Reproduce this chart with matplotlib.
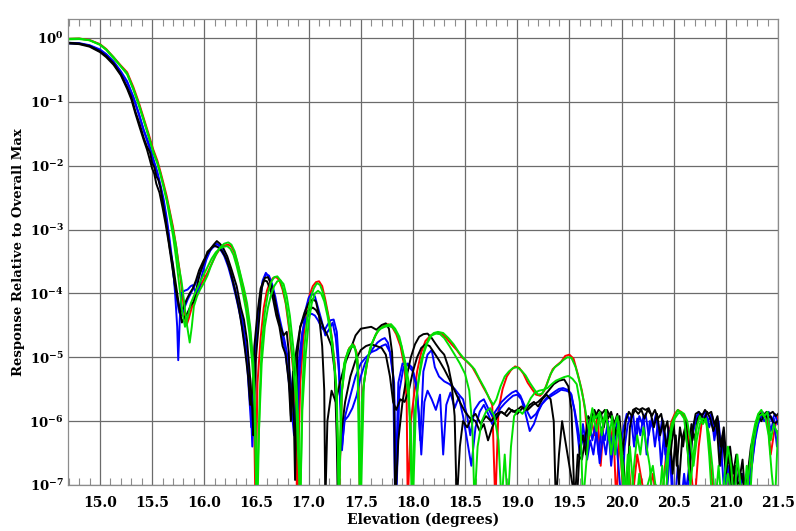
import matplotlib
matplotlib.use('Agg')
import matplotlib.pyplot as plt
from matplotlib.ticker import MultipleLocator, NullLocator

plt.rcParams['font.family'] = ['DejaVu Serif']
plt.rcParams['font.weight'] = 'bold'

# elevation (deg), response relative to overall max
red_pts = [
    (14.70, 0.97), (14.80, 0.98), (14.90, 0.93), (15.00, 0.80), (15.06, 0.67), (15.13, 0.50),
    (15.20, 0.37), (15.26, 0.29), (15.32, 0.17), (15.37, 0.10), (15.42, 0.055), (15.47, 0.030),
    (15.51, 0.018), (15.55, 0.012), (15.58, 0.0080), (15.61, 0.0052), (15.64, 0.0033),
    (15.67, 0.0019), (15.70, 1.1e-3), (15.73, 5.5e-4), (15.76, 2.5e-4), (15.79, 1.0e-4),
    (15.81, 4.5e-5), (15.83, 3.2e-5), (15.85, 4.0e-5), (15.88, 6.0e-5), (15.91, 8.5e-5),
    (15.95, 1.2e-4), (15.99, 1.6e-4), (16.03, 2.1e-4), (16.07, 2.9e-4), (16.11, 4.0e-4),
    (16.15, 5.0e-4), (16.19, 5.6e-4), (16.23, 5.8e-4), (16.26, 5.4e-4), (16.29, 4.3e-4),
    (16.32, 2.9e-4), (16.35, 1.8e-4), (16.38, 1.1e-4), (16.41, 6e-5), (16.44, 2.5e-5),
    (16.47, 6e-6), (16.49, 5e-8), (16.51, 4e-6), (16.54, 2.0e-5), (16.57, 6e-5), (16.60, 1.1e-4),
    (16.63, 1.5e-4), (16.66, 1.75e-4), (16.69, 1.8e-4), (16.72, 1.6e-4), (16.75, 1.15e-4),
    (16.78, 7e-5), (16.81, 3e-5), (16.84, 1e-5), (16.87, 3e-6), (16.89, 5e-8), (16.92, 4e-6),
    (16.95, 2.0e-5), (16.98, 5.5e-5), (17.01, 9.5e-5), (17.04, 1.3e-4), (17.07, 1.5e-4),
    (17.10, 1.55e-4), (17.13, 1.3e-4), (17.16, 8e-5), (17.19, 4.5e-5), (17.22, 2.2e-5),
    (17.25, 8e-6), (17.27, 1.5e-6), (17.29, 5e-8), (17.32, 3e-6), (17.35, 9e-6), (17.39, 1.4e-5),
    (17.43, 1.6e-5), (17.46, 1.2e-5), (17.48, 5e-6), (17.49, 5e-8), (17.52, 3e-6), (17.56, 8e-6),
    (17.60, 1.5e-5), (17.64, 2.2e-5), (17.68, 2.8e-5), (17.72, 3.1e-5), (17.76, 3.3e-5),
    (17.80, 3.0e-5), (17.84, 2.3e-5), (17.88, 1.5e-5), (17.92, 7e-6), (17.94, 2e-6), (17.95, 5e-8),
    (17.98, 1e-6), (18.01, 2.5e-6), (18.04, 6e-6), (18.08, 1.2e-5), (18.12, 1.8e-5), (18.17, 2.2e-5),
    (18.22, 2.4e-5), (18.27, 2.4e-5), (18.32, 2.0e-5), (18.37, 1.6e-5), (18.42, 1.3e-5),
    (18.47, 1.0e-5), (18.52, 8.5e-6), (18.57, 7e-6), (18.62, 5e-6), (18.67, 3.5e-6), (18.72, 2.5e-6),
    (18.76, 1.8e-6), (18.79, 5e-8), (18.82, 1.5e-6), (18.86, 3.2e-6), (18.90, 5e-6), (18.94, 6.3e-6),
    (18.98, 7.2e-6), (19.02, 6.8e-6), (19.06, 5.5e-6), (19.10, 4.0e-6), (19.14, 3.2e-6),
    (19.18, 2.6e-6), (19.22, 2.5e-6), (19.26, 3.0e-6), (19.30, 4.5e-6), (19.34, 6.5e-6),
    (19.38, 7.5e-6), (19.42, 8.5e-6), (19.46, 1.05e-5), (19.50, 1.1e-5), (19.54, 9.5e-6),
    (19.58, 5.5e-6), (19.62, 3e-6), (19.65, 1.5e-6),
    (19.68, 4e-7), (19.71, 1.1e-6), (19.74, 6e-7), (19.77, 1.3e-6), (19.80, 2e-7), (19.83, 1.0e-6),
    (19.86, 1.3e-6), (19.89, 4e-7), (19.92, 9e-7), (19.95, 5e-8), (19.98, 6e-7), (20.01, 1e-7),
    (20.04, 5e-8), (20.07, 2e-7), (20.10, 5e-8), (20.15, 3e-7), (20.20, 1e-7), (20.25, 5e-8),
    (20.30, 1.5e-7), (20.35, 5e-8), (20.40, 1e-7), (20.44, 5e-7), (20.48, 1.0e-6), (20.51, 1.3e-6),
    (20.54, 1.5e-6), (20.57, 1.4e-6), (20.60, 1.2e-6), (20.63, 8e-7), (20.66, 2e-7), (20.70, 5e-8),
    (20.74, 4e-7), (20.77, 1.0e-6), (20.80, 1.2e-6), (20.83, 7e-7), (20.86, 1.5e-7), (20.90, 5e-8),
    (20.95, 1e-7), (21.00, 5e-8), (21.05, 2e-7), (21.10, 5e-8), (21.15, 1e-7), (21.20, 5e-8),
    (21.24, 3e-7), (21.28, 7e-7), (21.31, 1.1e-6), (21.34, 1.4e-6), (21.37, 1.3e-6), (21.40, 1.0e-6),
    (21.43, 3e-7), (21.47, 8e-7), (21.50, 1.2e-6),
]

green1_pts = [
    (14.70, 0.97), (14.80, 0.98), (14.90, 0.92), (15.00, 0.78), (15.06, 0.65), (15.13, 0.48),
    (15.20, 0.36), (15.26, 0.28), (15.32, 0.16), (15.37, 0.095), (15.42, 0.052), (15.47, 0.028),
    (15.51, 0.016), (15.55, 0.011), (15.58, 0.0072), (15.61, 0.0048), (15.64, 0.0030),
    (15.67, 0.0018), (15.70, 1.0e-3), (15.73, 5.5e-4), (15.75, 3.0e-4), (15.78, 1.6e-4),
    (15.80, 9e-5), (15.83, 3.5e-5), (15.86, 1.7e-5), (15.88, 3.0e-5), (15.90, 6.3e-5),
    (15.93, 9.0e-5), (15.96, 1.15e-4), (16.00, 1.5e-4), (16.03, 1.9e-4), (16.06, 2.6e-4),
    (16.09, 3.4e-4), (16.12, 4.3e-4), (16.15, 5.2e-4), (16.19, 6.0e-4), (16.23, 6.3e-4),
    (16.26, 5.8e-4), (16.29, 4.6e-4), (16.32, 3.0e-4), (16.35, 1.9e-4), (16.38, 1.2e-4),
    (16.41, 7.0e-5), (16.44, 3.0e-5), (16.47, 8e-6), (16.49, 1e-6), (16.51, 5e-8), (16.53, 2e-6),
    (16.55, 1.5e-5), (16.58, 5e-5), (16.61, 1.0e-4), (16.64, 1.5e-4), (16.67, 1.8e-4),
    (16.70, 1.85e-4), (16.73, 1.6e-4), (16.76, 1.1e-4), (16.79, 6e-5), (16.82, 2.5e-5),
    (16.85, 8e-6), (16.88, 2e-6), (16.90, 3e-7), (16.92, 5e-8), (16.94, 3e-6), (16.96, 1.5e-5),
    (16.99, 4.5e-5), (17.02, 8.5e-5), (17.05, 1.2e-4), (17.08, 1.45e-4), (17.11, 1.35e-4),
    (17.14, 1.0e-4), (17.17, 6e-5), (17.20, 3.5e-5), (17.23, 1.6e-5), (17.26, 4e-6), (17.28, 5e-7),
    (17.29, 5e-8), (17.31, 2e-6), (17.34, 8e-6), (17.38, 1.3e-5), (17.42, 1.6e-5), (17.45, 1.3e-5),
    (17.47, 6e-6), (17.49, 5e-8), (17.51, 2e-6), (17.55, 7e-6), (17.59, 1.4e-5), (17.63, 2.0e-5),
    (17.67, 2.7e-5), (17.71, 3.0e-5), (17.75, 3.2e-5), (17.79, 3.3e-5), (17.83, 2.8e-5),
    (17.87, 2.1e-5), (17.90, 1.3e-5), (17.93, 8e-6), (17.96, 4e-6), (17.99, 5e-8), (18.02, 1.5e-6),
    (18.05, 4e-6), (18.08, 9e-6), (18.12, 1.5e-5), (18.16, 2.1e-5), (18.20, 2.4e-5), (18.24, 2.5e-5),
    (18.29, 2.4e-5), (18.34, 2.0e-5), (18.39, 1.6e-5), (18.44, 1.2e-5), (18.49, 9.5e-6),
    (18.54, 8e-6), (18.59, 6.5e-6), (18.64, 4.5e-6), (18.69, 3.2e-6), (18.73, 2.3e-6),
    (18.77, 1.8e-6), (18.80, 2.2e-6), (18.84, 3.5e-6), (18.88, 5e-6), (18.92, 6e-6), (18.96, 6.8e-6),
    (19.00, 7e-6), (19.04, 6.2e-6), (19.08, 5.2e-6), (19.12, 4e-6), (19.16, 3.2e-6), (19.20, 2.6e-6),
    (19.24, 2.7e-6), (19.28, 3.6e-6), (19.32, 5.5e-6), (19.36, 7e-6), (19.40, 7.8e-6), (19.44, 9e-6),
    (19.48, 1.0e-5), (19.52, 9.8e-6), (19.56, 7e-6), (19.60, 4e-6), (19.64, 2e-6), (19.67, 1.0e-6),
    (19.70, 6e-7), (19.73, 1.2e-6), (19.76, 7e-7), (19.79, 1.4e-6), (19.82, 9e-7), (19.85, 1.5e-6),
    (19.88, 5e-7), (19.91, 1.2e-6), (19.94, 3e-7), (19.97, 1.0e-6), (20.00, 2e-7), (20.03, 5e-8),
    (20.06, 3e-7), (20.09, 5e-8), (20.12, 2e-7), (20.15, 6e-7), (20.18, 3e-7), (20.21, 8e-7),
    (20.24, 4e-7), (20.27, 2e-7), (20.30, 5e-8), (20.33, 1e-7), (20.36, 5e-8), (20.39, 2e-7),
    (20.42, 5e-8), (20.45, 3e-7), (20.48, 7e-7), (20.51, 1.1e-6), (20.54, 1.3e-6), (20.57, 1.4e-6),
    (20.60, 1.3e-6), (20.63, 1.0e-6), (20.66, 5e-7), (20.69, 2e-7), (20.72, 5e-7), (20.75, 9e-7),
    (20.78, 1.1e-6), (20.81, 1.0e-6), (20.84, 6e-7), (20.87, 2e-7), (20.90, 5e-8), (20.93, 2e-7),
    (20.96, 5e-8), (20.99, 1.5e-7), (21.02, 4e-7), (21.05, 2e-7), (21.08, 5e-8), (21.11, 3e-7),
    (21.14, 1e-7), (21.17, 5e-8), (21.20, 2e-7), (21.23, 5e-8), (21.26, 4e-7), (21.29, 8e-7),
    (21.32, 1.2e-6), (21.35, 1.3e-6), (21.38, 1.1e-6), (21.41, 6e-7), (21.44, 1.5e-7),
    (21.47, 5e-8), (21.50, 7e-7),
]

green2_pts = [
    (14.70, 0.95), (14.80, 0.96), (14.90, 0.92), (15.00, 0.79), (15.06, 0.66), (15.13, 0.50),
    (15.20, 0.36), (15.26, 0.27), (15.32, 0.155), (15.37, 0.09), (15.42, 0.050), (15.47, 0.027),
    (15.51, 0.017), (15.55, 0.011), (15.58, 0.0075), (15.61, 0.0046), (15.64, 0.0028),
    (15.67, 0.0015), (15.70, 8e-4), (15.73, 3.5e-4), (15.76, 1.3e-4), (15.79, 5e-5),
    (15.815, 3.0e-5), (15.84, 4.2e-5), (15.87, 7e-5), (15.91, 1.0e-4), (15.95, 1.4e-4),
    (15.99, 1.9e-4), (16.03, 2.6e-4), (16.07, 3.5e-4), (16.11, 4.4e-4), (16.15, 5.1e-4),
    (16.19, 5.4e-4), (16.22, 5.5e-4), (16.25, 5.0e-4), (16.28, 4.0e-4), (16.31, 2.7e-4),
    (16.34, 1.7e-4), (16.37, 1.0e-4), (16.40, 5.5e-5), (16.43, 2.5e-5), (16.46, 8e-6),
    (16.48, 2e-6), (16.50, 5e-8), (16.52, 5e-7), (16.55, 8e-6), (16.58, 3e-5), (16.61, 6e-5),
    (16.64, 9.5e-5), (16.67, 1.3e-4), (16.70, 1.55e-4), (16.73, 1.6e-4), (16.76, 1.4e-4),
    (16.79, 9e-5), (16.82, 4.5e-5), (16.85, 1.6e-5), (16.88, 5e-6), (16.90, 1e-6), (16.92, 5e-8),
    (16.94, 1.5e-6), (16.97, 1e-5), (17.00, 3.5e-5), (17.03, 7e-5), (17.06, 1.0e-4), (17.09, 1.1e-4),
    (17.12, 1.0e-4), (17.15, 7.5e-5), (17.18, 4.5e-5), (17.21, 2.4e-5), (17.24, 1.0e-5),
    (17.27, 3e-6), (17.29, 5e-8), (17.32, 3e-6), (17.36, 1.0e-5), (17.40, 1.4e-5), (17.44, 1.5e-5),
    (17.47, 9e-6), (17.50, 5e-8), (17.53, 4e-6), (17.57, 1.0e-5), (17.61, 1.7e-5), (17.65, 2.4e-5),
    (17.69, 2.8e-5), (17.73, 3.0e-5), (17.77, 3.1e-5), (17.81, 2.9e-5), (17.85, 2.3e-5),
    (17.89, 1.5e-5), (17.92, 8e-6), (17.95, 3e-6), (17.98, 8e-7), (18.00, 5e-8), (18.03, 2e-6),
    (18.06, 5e-6), (18.10, 1.1e-5), (18.14, 1.7e-5), (18.18, 2.2e-5), (18.22, 2.35e-5),
    (18.26, 2.3e-5), (18.30, 2.0e-5), (18.35, 1.5e-5), (18.40, 1.1e-5), (18.45, 8e-6),
    (18.50, 5.5e-6), (18.54, 3e-6), (18.57, 8e-7), (18.59, 5e-8), (18.62, 4e-7), (18.66, 1.0e-6),
    (18.70, 1.4e-6), (18.74, 1.6e-6), (18.78, 1.2e-6), (18.82, 5e-7), (18.85, 5e-8), (18.88, 3e-7),
    (18.91, 5e-8), (18.94, 4e-7), (18.97, 1.2e-6), (19.01, 1.5e-6), (19.05, 1.3e-6), (19.09, 1.7e-6),
    (19.13, 2.3e-6), (19.17, 2.8e-6), (19.21, 3.0e-6), (19.25, 3.1e-6), (19.29, 3.3e-6),
    (19.33, 3.8e-6), (19.37, 4.3e-6), (19.41, 4.6e-6), (19.45, 4.9e-6), (19.49, 5.1e-6),
    (19.53, 4.6e-6), (19.57, 3.8e-6), (19.60, 2e-6), (19.63, 5e-8),
    (19.66, 2e-7), (19.69, 8e-7), (19.72, 1.6e-6), (19.75, 1.1e-6), (19.78, 1.3e-6), (19.81, 6e-7),
    (19.84, 1.2e-6), (19.87, 9e-7), (19.90, 3e-7), (19.93, 8e-7), (19.96, 1.2e-6), (19.99, 6e-7),
    (20.02, 1.5e-7), (20.05, 5e-8), (20.08, 4e-7), (20.11, 1e-7), (20.14, 5e-8), (20.17, 1.5e-7),
    (20.20, 5e-8), (20.25, 1e-7), (20.30, 2e-7), (20.35, 5e-8), (20.40, 1e-7), (20.45, 4e-7),
    (20.48, 9e-7), (20.51, 1.2e-6), (20.54, 1.5e-6), (20.57, 1.3e-6), (20.60, 1.1e-6), (20.63, 4e-7),
    (20.66, 1e-7), (20.69, 3e-7), (20.72, 8e-7), (20.75, 1.2e-6), (20.78, 9e-7), (20.81, 1.1e-6),
    (20.84, 3e-7), (20.87, 5e-8), (20.92, 1e-7), (20.97, 5e-8), (21.02, 1.5e-7), (21.07, 5e-8),
    (21.12, 1e-7), (21.17, 5e-8), (21.22, 1.5e-7), (21.25, 5e-7), (21.28, 9e-7), (21.31, 1.3e-6),
    (21.34, 1.5e-6), (21.37, 1.2e-6), (21.40, 1.4e-6), (21.43, 5e-7), (21.46, 9e-7), (21.50, 6e-7),
]

blue1_pts = [
    (14.70, 0.84), (14.80, 0.83), (14.90, 0.77), (15.00, 0.66), (15.06, 0.56), (15.13, 0.43),
    (15.20, 0.30), (15.26, 0.21), (15.32, 0.12), (15.37, 0.068), (15.42, 0.036), (15.47, 0.022),
    (15.51, 0.013), (15.55, 0.0080), (15.58, 0.0050), (15.61, 0.0030), (15.64, 0.0015),
    (15.67, 6.5e-4), (15.70, 2.6e-4), (15.72, 1.0e-4), (15.74, 3.0e-5), (15.75, 9e-6),
    (15.765, 4e-5), (15.78, 1.0e-4), (15.81, 1.1e-4), (15.84, 1.15e-4), (15.87, 1.3e-4),
    (15.89, 1.35e-4), (15.92, 1.0e-4), (15.95, 1.2e-4), (15.98, 2.0e-4), (16.02, 3.4e-4),
    (16.06, 4.8e-4), (16.09, 5.6e-4), (16.12, 6.0e-4), (16.15, 5.5e-4), (16.18, 4.6e-4),
    (16.22, 3.3e-4), (16.26, 2.0e-4), (16.30, 1.1e-4), (16.34, 6e-5), (16.37, 3.5e-5),
    (16.40, 1.5e-5), (16.43, 5e-6), (16.45, 1.2e-6), (16.46, 4e-7), (16.48, 5e-6), (16.50, 2.5e-5),
    (16.53, 7e-5), (16.56, 1.5e-4), (16.59, 2.0e-4), (16.62, 1.9e-4), (16.65, 1.4e-4), (16.68, 9e-5),
    (16.71, 5e-5), (16.74, 3e-5), (16.77, 1.8e-5), (16.80, 1.0e-5), (16.83, 4e-6), (16.86, 1.5e-6),
    (16.89, 7e-7), (16.91, 5e-6), (16.94, 2.2e-5), (16.97, 5.5e-5), (17.00, 8.5e-5), (17.03, 1.0e-4),
    (17.06, 9.0e-5), (17.09, 6e-5), (17.12, 4e-5), (17.16, 2.2e-5), (17.20, 2.8e-5), (17.23, 3.5e-5),
    (17.26, 2e-5), (17.29, 6e-6), (17.32, 4e-7), (17.35, 1.2e-6), (17.40, 2.5e-6), (17.45, 5e-6),
    (17.50, 8e-6), (17.55, 1.0e-5), (17.60, 1.2e-5), (17.65, 1.3e-5), (17.70, 1.5e-5),
    (17.74, 1.6e-5), (17.78, 1.2e-5), (17.81, 5e-6), (17.83, 5e-8), (17.86, 4e-6), (17.90, 8e-6),
    (17.95, 7.5e-6), (18.00, 6e-6), (18.04, 3e-6), (18.07, 5e-7), (18.10, 6e-6), (18.14, 1.1e-5),
    (18.18, 1.3e-5), (18.21, 7e-6), (18.25, 5e-6), (18.30, 4.2e-6), (18.35, 3.8e-6), (18.40, 3.2e-6),
    (18.45, 2.5e-6), (18.48, 2.2e-6), (18.52, 1.2e-6), (18.55, 6e-7), (18.59, 1.5e-6),
    (18.64, 2.0e-6), (18.68, 2.2e-6), (18.72, 1.6e-6), (18.76, 1.2e-6), (18.80, 1.5e-6),
    (18.85, 2.0e-6), (18.90, 2.4e-6), (18.95, 2.8e-6), (18.99, 3.0e-6), (19.03, 2.5e-6),
    (19.08, 1.6e-6), (19.13, 1.1e-6), (19.18, 1.3e-6), (19.23, 1.8e-6), (19.28, 2.2e-6),
    (19.33, 2.5e-6), (19.38, 2.8e-6), (19.42, 3.1e-6), (19.47, 3.0e-6), (19.51, 2.8e-6),
    (19.55, 1.5e-6), (19.58, 8e-7),
    (19.61, 4e-7), (19.64, 6e-7), (19.67, 2.5e-7), (19.70, 5e-7), (19.73, 3e-7), (19.76, 7e-7),
    (19.79, 2.2e-7), (19.82, 6e-7), (19.85, 3e-7), (19.88, 8e-7), (19.91, 4e-7), (19.94, 7e-7),
    (19.97, 2e-7), (20.00, 5e-8), (20.03, 4e-7), (20.06, 9e-7), (20.09, 1.2e-6), (20.12, 4e-7),
    (20.15, 1.1e-6), (20.18, 6e-7), (20.21, 1.2e-6), (20.24, 3e-7), (20.27, 1.0e-6), (20.30, 8e-7),
    (20.33, 1.3e-6), (20.36, 5e-7), (20.39, 1.1e-6), (20.42, 3e-7), (20.45, 8e-7), (20.48, 1e-7),
    (20.51, 5e-8), (20.54, 2e-7), (20.57, 5e-8), (20.60, 1.5e-7), (20.63, 5e-8), (20.66, 4e-7),
    (20.69, 9e-7), (20.72, 1.2e-6), (20.75, 1.3e-6), (20.78, 1.1e-6), (20.81, 1.3e-6), (20.84, 8e-7),
    (20.87, 1.2e-6), (20.90, 6e-7), (20.93, 1.0e-6), (20.96, 3e-7), (20.99, 5e-8), (21.02, 2e-7),
    (21.05, 5e-8), (21.10, 1.5e-7), (21.15, 5e-8), (21.20, 1e-7), (21.25, 2e-7), (21.28, 5e-7),
    (21.31, 9e-7), (21.34, 1.2e-6), (21.37, 1.0e-6), (21.40, 1.3e-6), (21.43, 7e-7), (21.46, 1.1e-6),
    (21.49, 4e-7), (21.50, 5e-7),
]

blue2_pts = [
    (14.70, 0.82), (14.80, 0.81), (14.90, 0.76), (15.00, 0.64), (15.06, 0.54), (15.13, 0.41),
    (15.20, 0.29), (15.26, 0.20), (15.32, 0.115), (15.37, 0.065), (15.42, 0.035), (15.47, 0.020),
    (15.51, 0.012), (15.55, 0.0072), (15.58, 0.0045), (15.61, 0.0026), (15.64, 0.0013),
    (15.67, 5.5e-4), (15.70, 2.2e-4), (15.73, 9e-5), (15.76, 5e-5), (15.78, 4.5e-5), (15.81, 6e-5),
    (15.84, 8e-5), (15.87, 1.0e-4), (15.90, 1.25e-4), (15.93, 1.6e-4), (15.97, 2.3e-4),
    (16.01, 3.4e-4), (16.05, 4.6e-4), (16.09, 5.4e-4), (16.12, 5.5e-4), (16.15, 5.0e-4),
    (16.19, 3.9e-4), (16.23, 2.6e-4), (16.27, 1.5e-4), (16.31, 8e-5), (16.35, 4e-5), (16.38, 2e-5),
    (16.41, 8e-6), (16.43, 2.5e-6), (16.45, 8e-7), (16.47, 4e-6), (16.50, 2.5e-5), (16.53, 8e-5),
    (16.56, 1.6e-4), (16.59, 2.1e-4), (16.62, 1.8e-4), (16.65, 1.2e-4), (16.68, 7e-5), (16.71, 4e-5),
    (16.74, 2.5e-5), (16.77, 1.4e-5), (16.80, 6e-6), (16.83, 2e-6), (16.86, 6e-7), (16.88, 2e-6),
    (16.91, 1.0e-5), (16.94, 2.5e-5), (16.97, 3.8e-5), (17.00, 4.6e-5), (17.03, 4.8e-5),
    (17.06, 4.5e-5), (17.09, 3.8e-5), (17.12, 3.0e-5), (17.15, 2.6e-5), (17.18, 3.2e-5),
    (17.21, 3.8e-5), (17.24, 3.9e-5), (17.27, 2.5e-5), (17.29, 8e-6), (17.31, 1.5e-6),
    (17.32, 3.5e-7), (17.34, 1e-6), (17.38, 1.2e-6), (17.42, 1.6e-6), (17.46, 2.5e-6), (17.50, 5e-6),
    (17.54, 8e-6), (17.58, 1.1e-5), (17.62, 1.4e-5), (17.66, 1.7e-5), (17.70, 1.9e-5),
    (17.73, 2.0e-5), (17.76, 1.7e-5), (17.79, 1.0e-5), (17.82, 4e-6), (17.84, 5e-8), (17.87, 3e-6),
    (17.91, 7e-6), (17.95, 8e-6), (17.99, 7e-6), (18.03, 4e-6), (18.06, 1.2e-6), (18.08, 3e-7),
    (18.11, 2e-6), (18.14, 3e-6), (18.18, 2.2e-6), (18.22, 1.5e-6), (18.26, 2.6e-6), (18.29, 3e-7),
    (18.32, 1.8e-6), (18.36, 2.8e-6), (18.40, 1.6e-6), (18.44, 2.4e-6), (18.48, 1.2e-6),
    (18.52, 5e-7), (18.56, 2e-7), (18.60, 8e-7), (18.64, 1.4e-6), (18.68, 1.8e-6), (18.72, 1.3e-6),
    (18.76, 9e-7), (18.80, 1.2e-6), (18.84, 1.6e-6), (18.88, 1.9e-6), (18.92, 2.2e-6),
    (18.96, 2.5e-6), (19.00, 2.6e-6), (19.04, 2.2e-6), (19.08, 1.3e-6), (19.12, 7e-7),
    (19.16, 9e-7), (19.20, 1.4e-6), (19.24, 1.9e-6), (19.28, 2.3e-6), (19.32, 2.6e-6),
    (19.36, 2.9e-6), (19.40, 3.2e-6), (19.44, 3.3e-6), (19.48, 3.1e-6), (19.52, 2.6e-6),
    (19.55, 1.4e-6), (19.58, 6e-7),
    (19.60, 3e-7), (19.63, 9e-7), (19.66, 4e-7), (19.69, 1.0e-6), (19.72, 5e-7), (19.75, 9e-7),
    (19.78, 3e-7), (19.81, 8e-7), (19.84, 5e-7), (19.87, 1.0e-6), (19.90, 2e-7), (19.93, 6e-7),
    (19.96, 1.0e-6), (19.99, 4e-7), (20.02, 8e-7), (20.05, 1.3e-6), (20.08, 1.0e-6), (20.11, 1.3e-6),
    (20.14, 5e-7), (20.17, 1.2e-6), (20.20, 9e-7), (20.23, 1.3e-6), (20.26, 6e-7), (20.29, 1.1e-6),
    (20.32, 4e-7), (20.35, 1.0e-6), (20.38, 2e-7), (20.41, 7e-7), (20.44, 1e-7), (20.47, 4e-7),
    (20.50, 5e-8), (20.55, 1e-7), (20.60, 5e-8), (20.65, 2e-7), (20.68, 6e-7), (20.71, 1.0e-6),
    (20.74, 1.4e-6), (20.77, 1.2e-6), (20.80, 1.4e-6), (20.83, 1.0e-6), (20.86, 1.3e-6),
    (20.89, 5e-7), (20.92, 1.1e-6), (20.95, 2e-7), (20.98, 6e-7), (21.01, 5e-8), (21.06, 1e-7),
    (21.11, 5e-8), (21.16, 1.5e-7), (21.21, 5e-8), (21.26, 3e-7), (21.29, 7e-7), (21.32, 1.1e-6),
    (21.35, 1.4e-6), (21.38, 1.2e-6), (21.41, 1.4e-6), (21.44, 1.0e-6), (21.47, 1.3e-6),
    (21.50, 9e-7),
]

black1_pts = [
    (14.70, 0.84), (14.80, 0.82), (14.90, 0.75), (15.00, 0.62), (15.06, 0.52), (15.13, 0.40),
    (15.20, 0.27), (15.26, 0.17), (15.30, 0.12), (15.34, 0.07), (15.38, 0.045), (15.42, 0.027),
    (15.45, 0.020), (15.48, 0.016), (15.50, 0.011), (15.52, 0.0095), (15.54, 0.0068),
    (15.56, 0.0060), (15.58, 0.0045), (15.61, 0.0022), (15.64, 0.0011), (15.67, 5.0e-4),
    (15.70, 2.8e-4), (15.73, 1.3e-4), (15.76, 6e-5), (15.785, 3.5e-5), (15.81, 4.2e-5),
    (15.84, 5.0e-5), (15.87, 6.5e-5), (15.90, 7.5e-5), (15.93, 1.3e-4), (15.96, 2.1e-4),
    (16.00, 3.2e-4), (16.03, 4.5e-4), (16.06, 5.0e-4), (16.09, 5.8e-4), (16.12, 6.6e-4),
    (16.15, 6.0e-4), (16.18, 5.2e-4), (16.22, 3.8e-4), (16.26, 2.4e-4), (16.31, 1.3e-4),
    (16.35, 6e-5), (16.38, 3.9e-5), (16.41, 1.8e-5), (16.44, 4.6e-6), (16.46, 1.5e-6),
    (16.47, 6e-7), (16.49, 8e-6), (16.52, 3e-5), (16.55, 1.2e-4), (16.58, 1.75e-4), (16.61, 1.8e-4),
    (16.64, 1.4e-4), (16.67, 9e-5), (16.70, 5e-5), (16.73, 3e-5), (16.76, 2.2e-5), (16.79, 2.5e-5),
    (16.81, 1.2e-5), (16.83, 1.2e-6), (16.85, 6e-6), (16.87, 1.2e-7), (16.89, 1e-5), (16.92, 3e-5),
    (16.96, 5e-5), (17.00, 7e-5), (17.04, 8.1e-5), (17.07, 7.5e-5), (17.10, 4.5e-5), (17.13, 1.5e-5),
    (17.15, 3e-6), (17.16, 5e-8), (17.18, 1e-6), (17.22, 3e-6), (17.26, 2e-6), (17.30, 4e-6),
    (17.35, 8e-6), (17.40, 1.3e-5), (17.45, 2.2e-5), (17.50, 2.8e-5), (17.55, 2.9e-5),
    (17.60, 3.0e-5), (17.65, 2.7e-5), (17.70, 3.2e-5), (17.74, 3.4e-5), (17.77, 2.8e-5),
    (17.80, 1.2e-5), (17.82, 2e-6), (17.83, 5e-8), (17.86, 5e-7), (17.90, 2e-6), (17.94, 5e-6),
    (17.98, 1.0e-5), (18.02, 1.6e-5), (18.06, 2.1e-5), (18.10, 2.3e-5), (18.14, 2.35e-5),
    (18.18, 2.0e-5), (18.22, 1.6e-5), (18.26, 1.3e-5), (18.30, 1.1e-5), (18.34, 7e-6), (18.37, 4e-6),
    (18.40, 1.2e-6), (18.42, 5e-8), (18.45, 4e-7), (18.48, 1.0e-6), (18.52, 8e-7), (18.56, 1.1e-6),
    (18.60, 1.0e-6), (18.64, 7e-7), (18.68, 9e-7), (18.72, 5e-7), (18.76, 8e-7), (18.80, 1.1e-6),
    (18.84, 1.4e-6), (18.88, 1.3e-6), (18.92, 1.6e-6), (18.96, 1.4e-6), (19.00, 1.5e-6),
    (19.04, 1.7e-6), (19.08, 1.5e-6), (19.12, 1.8e-6), (19.16, 2.0e-6), (19.20, 1.7e-6),
    (19.24, 2.2e-6), (19.28, 2.6e-6), (19.32, 2.2e-6), (19.35, 1.0e-6), (19.37, 5e-8),
    (19.40, 3e-7), (19.43, 1.0e-6), (19.46, 5e-7), (19.50, 2e-7), (19.53, 1e-7), (19.57, 5e-8),
    (19.60, 4e-7), (19.63, 6e-7), (19.66, 3e-7), (19.69, 9e-7), (19.72, 1.4e-6), (19.75, 1.2e-6),
    (19.78, 1.5e-6), (19.81, 1.3e-6), (19.84, 1.5e-6), (19.87, 1.1e-6), (19.90, 1.4e-6),
    (19.93, 9e-7), (19.96, 1.3e-6), (19.99, 5e-7), (20.02, 2e-7), (20.05, 5e-8), (20.08, 8e-7),
    (20.11, 1.5e-6), (20.14, 1.6e-6), (20.17, 1.5e-6), (20.20, 1.6e-6), (20.23, 1.5e-6),
    (20.26, 1.6e-6), (20.29, 1.2e-6), (20.32, 1.5e-6), (20.35, 1.1e-6), (20.38, 1.3e-6),
    (20.41, 7e-7), (20.44, 1.0e-6), (20.47, 3e-7), (20.50, 9e-7), (20.53, 2e-7), (20.56, 8e-7),
    (20.59, 4e-7), (20.62, 1.0e-6), (20.65, 1.2e-7), (20.68, 7e-7), (20.71, 1.3e-6), (20.74, 1.4e-6),
    (20.77, 1.2e-6), (20.80, 1.5e-6), (20.83, 1.3e-6), (20.86, 1.4e-6), (20.89, 9e-7),
    (20.92, 1.2e-6), (20.95, 4e-7), (20.98, 8e-7), (21.01, 2e-7), (21.04, 4e-7), (21.07, 1.5e-7),
    (21.10, 3e-7), (21.13, 1.2e-7), (21.16, 2.5e-7), (21.19, 5e-8), (21.22, 2e-7), (21.25, 3e-7),
    (21.28, 8e-7), (21.31, 1.2e-6), (21.34, 1.0e-6), (21.37, 1.3e-6), (21.40, 1.1e-6),
    (21.43, 1.2e-6), (21.46, 9e-7), (21.50, 1.0e-6),
]

black2_pts = [
    (14.70, 0.82), (14.80, 0.80), (14.90, 0.73), (15.00, 0.60), (15.06, 0.50), (15.13, 0.38),
    (15.20, 0.26), (15.26, 0.16), (15.30, 0.11), (15.34, 0.065), (15.38, 0.040), (15.42, 0.025),
    (15.45, 0.018), (15.48, 0.012), (15.50, 0.0090), (15.52, 0.0075), (15.54, 0.0052),
    (15.57, 0.0038), (15.60, 0.0022), (15.63, 1.2e-3), (15.66, 6e-4), (15.69, 2.8e-4),
    (15.72, 1.3e-4), (15.75, 7e-5), (15.77, 5e-5), (15.80, 6e-5), (15.83, 8e-5), (15.86, 1.0e-4),
    (15.89, 1.2e-4), (15.92, 1.6e-4), (15.95, 2.3e-4), (15.99, 3.2e-4), (16.03, 4.2e-4),
    (16.07, 5.2e-4), (16.10, 5.6e-4), (16.13, 5.3e-4), (16.17, 4.6e-4), (16.21, 3.5e-4),
    (16.25, 2.2e-4), (16.29, 1.2e-4), (16.33, 6e-5), (16.36, 3e-5), (16.39, 1.3e-5), (16.42, 5e-6),
    (16.44, 1.8e-6), (16.46, 3e-6), (16.48, 1.5e-5), (16.51, 5e-5), (16.54, 1.2e-4), (16.57, 1.6e-4),
    (16.60, 1.55e-4), (16.63, 1.2e-4), (16.66, 8e-5), (16.69, 4.5e-5), (16.72, 3e-5), (16.75, 1.5e-5),
    (16.78, 1.1e-5), (16.81, 4e-6), (16.83, 1e-6), (16.85, 3e-6), (16.88, 1.2e-5), (16.92, 3e-5),
    (16.96, 4.5e-5), (17.00, 5.5e-5), (17.04, 6e-5), (17.07, 5.5e-5), (17.10, 4.5e-5),
    (17.14, 3e-5), (17.18, 2.2e-5), (17.22, 1.5e-5), (17.25, 6e-6), (17.27, 5e-7), (17.28, 5e-8),
    (17.31, 6e-7), (17.35, 2e-6), (17.40, 5e-6), (17.45, 9e-6), (17.50, 1.3e-5), (17.55, 1.5e-5),
    (17.60, 1.6e-5), (17.65, 1.5e-5), (17.70, 1.4e-5), (17.74, 1.1e-5), (17.78, 5e-6),
    (17.81, 2e-6), (17.84, 1.5e-6), (17.88, 2.2e-6), (17.92, 2.0e-6), (17.96, 3e-6), (18.00, 6e-6),
    (18.04, 1.0e-5), (18.08, 1.4e-5), (18.12, 1.6e-5), (18.16, 1.5e-5), (18.20, 1.2e-5),
    (18.25, 9e-6), (18.30, 6.5e-6), (18.35, 4.5e-6), (18.40, 3e-6), (18.45, 2.0e-6), (18.50, 1.4e-6),
    (18.55, 1.1e-6), (18.60, 1.3e-6), (18.65, 9e-7), (18.70, 1.2e-6), (18.75, 1.0e-6),
    (18.80, 1.3e-6), (18.85, 1.4e-6), (18.90, 1.2e-6), (18.95, 1.5e-6), (19.00, 1.3e-6),
    (19.05, 1.6e-6), (19.10, 1.5e-6), (19.15, 1.8e-6), (19.20, 2.0e-6), (19.25, 2.4e-6),
    (19.30, 3.0e-6), (19.35, 3.8e-6), (19.40, 4.3e-6), (19.45, 4.5e-6), (19.49, 3.5e-6),
    (19.52, 1.5e-6), (19.55, 5e-8),
    (19.58, 3e-7), (19.62, 2.5e-7), (19.65, 5e-7), (19.68, 1.2e-6), (19.71, 1.0e-6), (19.74, 1.5e-6),
    (19.77, 1.1e-6), (19.80, 1.4e-6), (19.83, 8e-7), (19.86, 1.5e-6), (19.89, 1.2e-6),
    (19.92, 1.0e-6), (19.95, 6e-7), (19.98, 1.2e-6), (20.01, 3e-7), (20.04, 1.0e-6), (20.07, 1.4e-6),
    (20.10, 1.2e-6), (20.13, 1.5e-6), (20.16, 1.3e-6), (20.19, 1.5e-6), (20.22, 1.1e-6),
    (20.25, 1.5e-6), (20.28, 1.3e-6), (20.31, 8e-7), (20.34, 1.3e-6), (20.37, 6e-7), (20.40, 1.0e-6),
    (20.43, 4e-7), (20.46, 7e-7), (20.49, 1.5e-7), (20.52, 6e-7), (20.55, 1e-7), (20.58, 5e-7),
    (20.61, 8e-7), (20.64, 3e-7), (20.67, 9e-7), (20.70, 5e-7), (20.73, 1.1e-6), (20.76, 1.3e-6),
    (20.79, 1.0e-6), (20.82, 1.4e-6), (20.85, 1.1e-6), (20.88, 7e-7), (20.91, 1.0e-6), (20.94, 2e-7),
    (20.97, 6e-7), (21.00, 1.5e-7), (21.03, 3e-7), (21.06, 5e-8), (21.09, 2e-7), (21.12, 9e-8),
    (21.15, 1.5e-7), (21.18, 8e-8), (21.21, 1.5e-7), (21.24, 4e-7), (21.27, 6e-7), (21.30, 1.1e-6),
    (21.33, 1.3e-6), (21.36, 1.2e-6), (21.39, 1.4e-6), (21.42, 1.3e-6), (21.45, 1.4e-6),
    (21.48, 1.2e-6), (21.50, 1.3e-6),
]

x_ticks = [15.0, 15.5, 16.0, 16.5, 17.0, 17.5, 18.0, 18.5, 19.0, 19.5, 20.0, 20.5, 21.0, 21.5]
y_ticks = [1e-7, 1e-6, 1e-5, 1e-4, 1e-3, 1e-2, 1e-1, 1e0]

curves = [
    (red_pts, '#ff0000'),
    (blue2_pts, '#0000ff'),
    (blue1_pts, '#0000ff'),
    (black2_pts, '#000000'),
    (black1_pts, '#000000'),
    (green2_pts, '#00e000'),
    (green1_pts, '#00e000'),
]

fig = plt.figure(figsize=(7.96, 5.31), dpi=100)
ax = fig.add_axes([0.0854, 0.0866, 0.8920, 0.8776])

for pts, col in curves:
    xs, ys = zip(*pts)
    ax.plot(xs, ys, color=col, lw=1.4)

ax.set_yscale('log')
ax.set_xlim(14.693, 21.5)
ax.set_ylim(1e-7, 1.98)

ax.set_xticks(x_ticks)
ax.set_xticklabels(['%.1f' % v for v in x_ticks])
ax.xaxis.set_minor_locator(MultipleLocator(0.1))
ax.set_yticks(y_ticks)
ax.yaxis.set_minor_locator(NullLocator())

ax.grid(True, which='major', color='0.42', lw=0.9)
ax.set_axisbelow(True)
ax.tick_params(axis='x', which='both', direction='in', top=True, colors='0.55',
               labelcolor='black', labelsize=10, pad=8)
ax.tick_params(axis='x', which='major', length=0)
ax.tick_params(axis='x', which='minor', length=5, width=0.8)
ax.tick_params(axis='y', which='both', direction='in', length=0, labelsize=9.5, pad=3)
for sp in ax.spines.values():
    sp.set_color('0.55')
    sp.set_linewidth(0.9)

ax.set_xlabel('Elevation (degrees)', fontsize=10, fontweight='bold', labelpad=2)
ax.set_ylabel('Response Relative to Overall Max', fontsize=9.5, fontweight='bold')
ax.yaxis.set_label_coords(-0.061, 0.5)

fig.savefig('out.png', dpi=100)
